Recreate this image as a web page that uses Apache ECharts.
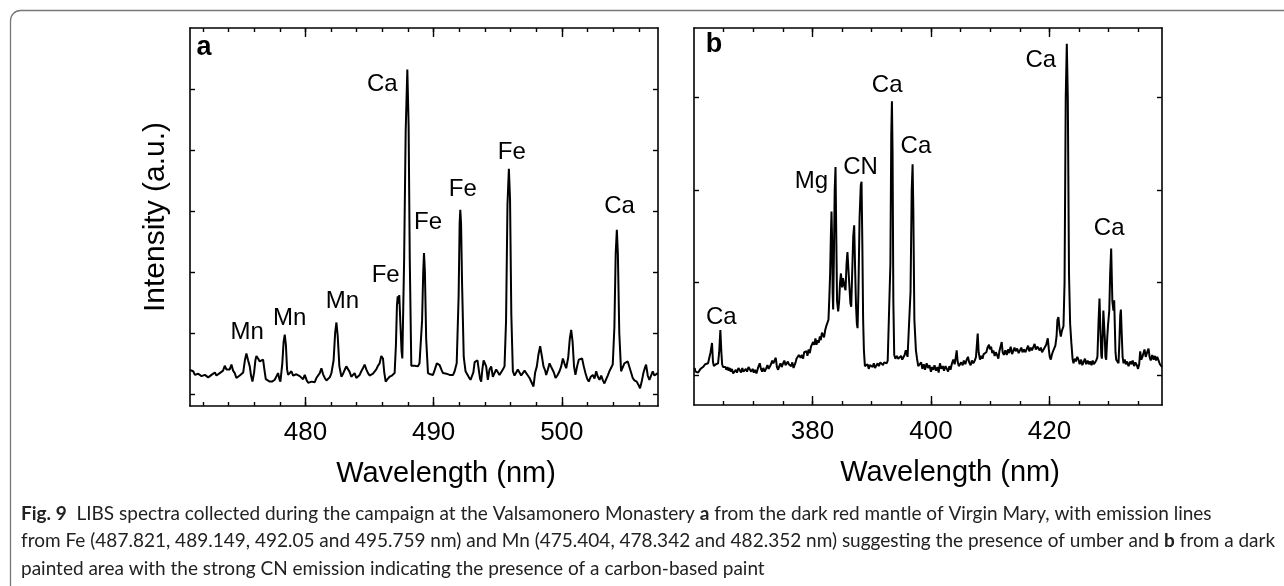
<!DOCTYPE html>
<html>
<head>
<meta charset="utf-8">
<script src="https://cdn.jsdelivr.net/npm/echarts@6/dist/echarts.min.js"></script>
<style>
html,body{margin:0;padding:0;background:#fff;}
#chart{width:1284px;height:586px;}
</style>
</head>
<body>
<div id="chart"></div>
<script>
// ---------- data ----------
// Panel a: wavelength (nm), intensity (a.u., tick spacing = 1)
const spectrumA = [[470.99,0.39],[471.12,0.36],[471.25,0.37],[471.38,0.31],[471.51,0.30],[471.64,0.33],[471.77,0.34],[471.90,0.29],[472.03,0.27],[472.16,0.31],[472.29,0.31],[472.42,0.27],[472.55,0.28],[472.68,0.31],[472.81,0.34],[472.94,0.35],[473.06,0.30],[473.19,0.31],[473.32,0.34],[473.45,0.37],[473.58,0.38],[473.71,0.46],[473.84,0.40],[473.97,0.37],[474.10,0.40],[474.23,0.48],[474.36,0.38],[474.49,0.34],[474.62,0.26],[474.75,0.23],[474.88,0.30],[475.01,0.31],[475.15,0.35],[475.28,0.55],[475.40,0.66],[475.53,0.55],[475.66,0.45],[475.76,0.30],[475.87,0.20],[476.00,0.35],[476.10,0.55],[476.18,0.62],[476.31,0.58],[476.44,0.53],[476.57,0.56],[476.70,0.56],[476.80,0.40],[476.91,0.24],[477.05,0.21],[477.22,0.20],[477.40,0.20],[477.61,0.23],[477.75,0.26],[477.87,0.34],[477.96,0.25],[478.05,0.20],[478.20,0.50],[478.30,0.85],[478.39,0.97],[478.48,0.80],[478.57,0.40],[478.65,0.31],[478.78,0.33],[478.91,0.37],[479.04,0.30],[479.17,0.28],[479.30,0.32],[479.43,0.34],[479.56,0.29],[479.69,0.28],[479.82,0.24],[479.95,0.31],[480.10,0.22],[480.22,0.18],[480.34,0.15],[480.47,0.20],[480.60,0.23],[480.73,0.19],[480.86,0.26],[480.99,0.30],[481.12,0.34],[481.25,0.42],[481.38,0.32],[481.51,0.26],[481.64,0.22],[481.77,0.20],[481.90,0.27],[482.03,0.34],[482.20,0.55],[482.32,1.00],[482.42,1.17],[482.52,0.95],[482.65,0.45],[482.81,0.28],[482.94,0.33],[483.06,0.39],[483.19,0.45],[483.32,0.48],[483.45,0.36],[483.58,0.28],[483.71,0.30],[483.84,0.34],[483.97,0.26],[484.10,0.26],[484.23,0.31],[484.36,0.37],[484.49,0.42],[484.62,0.48],[484.75,0.40],[484.88,0.34],[485.01,0.30],[485.14,0.28],[485.27,0.33],[485.40,0.34],[485.53,0.40],[485.66,0.46],[485.79,0.50],[485.92,0.62],[486.05,0.58],[486.15,0.35],[486.26,0.20],[486.40,0.24],[486.57,0.28],[486.75,0.30],[486.96,0.34],[487.06,0.80],[487.14,1.45],[487.20,1.60],[487.26,1.48],[487.32,1.62],[487.40,1.20],[487.50,0.70],[487.56,0.58],[487.70,2.20],[487.82,4.30],[487.95,5.32],[488.05,4.40],[488.14,2.20],[488.26,0.46],[488.39,0.48],[488.52,0.46],[488.65,0.44],[488.78,0.45],[488.90,0.50],[488.98,0.52],[489.10,1.20],[489.19,2.00],[489.25,2.31],[489.32,2.00],[489.42,0.90],[489.56,0.34],[489.75,0.32],[489.95,0.31],[490.10,0.40],[490.25,0.50],[490.34,0.50],[490.47,0.47],[490.60,0.40],[490.73,0.34],[490.86,0.34],[491.00,0.33],[491.12,0.30],[491.25,0.31],[491.40,0.34],[491.52,0.31],[491.64,0.37],[491.80,0.50],[491.95,1.60],[492.03,2.80],[492.08,3.02],[492.14,2.80],[492.22,1.80],[492.35,0.60],[492.49,0.37],[492.62,0.32],[492.75,0.27],[492.88,0.23],[493.00,0.20],[493.10,0.35],[493.20,0.52],[493.32,0.50],[493.42,0.55],[493.53,0.56],[493.62,0.25],[493.71,0.20],[493.80,0.40],[493.90,0.55],[493.97,0.56],[494.10,0.45],[494.23,0.23],[494.36,0.40],[494.49,0.45],[494.62,0.28],[494.75,0.28],[494.88,0.40],[495.01,0.37],[495.14,0.31],[495.27,0.31],[495.40,0.40],[495.53,0.45],[495.65,1.20],[495.76,3.10],[495.87,3.69],[495.96,3.20],[496.06,1.30],[496.18,0.37],[496.31,0.30],[496.44,0.28],[496.57,0.40],[496.70,0.39],[496.83,0.30],[496.96,0.31],[497.09,0.38],[497.22,0.37],[497.35,0.30],[497.48,0.26],[497.60,0.28],[497.79,0.12],[497.92,0.35],[498.05,0.45],[498.18,0.65],[498.31,0.78],[498.44,0.62],[498.57,0.45],[498.70,0.38],[498.78,0.31],[498.91,0.40],[499.04,0.50],[499.15,0.45],[499.25,0.45],[499.38,0.35],[499.51,0.26],[499.65,0.30],[499.82,0.37],[499.95,0.45],[500.08,0.58],[500.20,0.50],[500.34,0.42],[500.50,0.60],[500.62,0.90],[500.73,1.05],[500.84,0.85],[500.95,0.45],[501.06,0.31],[501.19,0.45],[501.32,0.56],[501.45,0.58],[501.58,0.58],[501.71,0.45],[501.84,0.34],[501.97,0.25],[502.10,0.20],[502.26,0.28],[502.42,0.31],[502.55,0.25],[502.68,0.37],[502.81,0.28],[502.94,0.23],[503.07,0.30],[503.20,0.22],[503.32,0.17],[503.46,0.24],[503.58,0.30],[503.71,0.37],[503.84,0.40],[503.97,0.48],[504.10,1.10],[504.20,2.30],[504.29,2.69],[504.37,2.30],[504.48,1.00],[504.62,0.37],[504.75,0.40],[504.88,0.50],[505.01,0.48],[505.14,0.53],[505.27,0.50],[505.40,0.35],[505.53,0.26],[505.66,0.22],[505.84,0.20],[505.97,0.15],[506.10,0.09],[506.23,0.20],[506.36,0.34],[506.47,0.42],[506.57,0.48],[506.70,0.30],[506.83,0.23],[506.96,0.30],[507.09,0.37],[507.22,0.30],[507.35,0.28],[507.48,0.34]];

// Panel b
const spectrumB = [[360.11,0.08],[360.25,0.04],[360.39,0.02],[360.55,0.05],[360.70,0.03],[360.96,0.04],[361.10,0.07],[361.25,0.05],[361.52,0.09],[361.70,0.07],[361.90,0.12],[362.10,0.10],[362.37,0.13],[362.60,0.15],[362.80,0.25],[363.04,0.35],[363.20,0.15],[363.35,0.10],[363.49,0.09],[363.70,0.12],[363.90,0.13],[364.06,0.13],[364.25,0.25],[364.45,0.49],[364.62,0.25],[364.75,0.12],[364.90,0.09],[365.10,0.07],[365.30,0.09],[365.46,0.06],[365.65,0.09],[365.85,0.05],[366.03,0.08],[366.20,0.04],[366.40,0.07],[366.60,0.02],[366.87,0.00],[367.05,0.06],[367.25,0.03],[367.50,0.08],[367.72,0.06],[367.95,0.03],[368.15,0.08],[368.35,0.04],[368.56,0.02],[368.75,0.07],[368.95,0.04],[369.20,0.09],[369.41,0.08],[369.65,0.04],[369.90,0.07],[370.10,0.03],[370.30,0.06],[370.54,0.02],[370.80,0.08],[371.10,0.13],[371.30,0.07],[371.50,0.04],[371.70,0.08],[371.94,0.04],[372.15,0.07],[372.40,0.11],[372.60,0.07],[372.79,0.09],[373.00,0.12],[373.20,0.16],[373.40,0.13],[373.63,0.15],[373.80,0.19],[374.00,0.09],[374.20,0.06],[374.40,0.10],[374.60,0.13],[374.80,0.09],[375.04,0.13],[375.25,0.16],[375.45,0.11],[375.61,0.09],[375.85,0.15],[376.00,0.12],[376.17,0.13],[376.40,0.10],[376.60,0.14],[376.80,0.08],[377.01,0.08],[377.15,0.14],[377.30,0.18],[377.50,0.16],[377.70,0.22],[377.86,0.24],[378.00,0.19],[378.20,0.22],[378.42,0.18],[378.60,0.25],[378.80,0.23],[378.99,0.26],[379.15,0.21],[379.35,0.28],[379.55,0.24],[379.75,0.31],[379.95,0.29],[380.11,0.36],[380.30,0.33],[380.50,0.40],[380.68,0.33],[380.85,0.38],[381.05,0.35],[381.24,0.42],[381.40,0.38],[381.60,0.46],[381.80,0.45],[381.95,0.41],[382.15,0.49],[382.37,0.54],[382.55,0.52],[382.70,0.60],[382.85,0.85],[382.98,1.10],[383.10,1.50],[383.21,1.77],[383.30,1.50],[383.40,0.90],[383.49,0.71],[383.60,1.20],[383.75,2.00],[383.89,2.25],[384.00,1.60],[384.15,0.80],[384.34,0.69],[384.50,0.80],[384.65,1.00],[384.80,1.10],[384.90,1.08],[385.00,0.95],[385.15,1.05],[385.30,1.05],[385.45,0.95],[385.58,0.92],[385.75,1.20],[385.90,1.33],[386.03,1.33],[386.20,1.00],[386.40,0.78],[386.54,0.74],[386.70,1.10],[386.88,1.50],[387.04,1.62],[387.18,1.20],[387.35,0.75],[387.50,0.55],[387.61,0.51],[387.75,0.90],[387.95,1.70],[388.15,2.05],[388.28,2.09],[388.42,1.40],[388.55,0.60],[388.68,0.27],[388.85,0.10],[389.13,0.08],[389.30,0.12],[389.50,0.07],[389.70,0.11],[389.97,0.13],[390.15,0.09],[390.35,0.13],[390.55,0.08],[390.82,0.09],[391.00,0.13],[391.20,0.10],[391.45,0.14],[391.66,0.15],[391.90,0.11],[392.10,0.14],[392.30,0.12],[392.51,0.13],[392.70,0.16],[392.96,0.17],[393.15,1.20],[393.30,2.60],[393.41,2.96],[393.52,2.40],[393.65,0.80],[393.80,0.22],[394.00,0.18],[394.25,0.21],[394.48,0.18],[394.70,0.16],[394.95,0.21],[395.15,0.17],[395.32,0.17],[395.55,0.22],[395.75,0.27],[395.89,0.26],[396.05,0.20],[396.20,0.22],[396.34,0.20],[396.55,0.90],[396.75,2.00],[396.90,2.28],[397.02,1.80],[397.20,0.60],[397.46,0.27],[397.65,0.18],[397.85,0.10],[398.14,0.09],[398.35,0.14],[398.55,0.07],[398.80,0.12],[399.00,0.06],[399.27,0.13],[399.50,0.08],[399.75,0.11],[400.00,0.04],[400.20,0.09],[400.39,0.06],[400.60,0.11],[400.85,0.05],[401.10,0.09],[401.30,0.03],[401.52,0.13],[401.75,0.07],[402.00,0.10],[402.20,0.05],[402.45,0.10],[402.65,0.09],[402.90,0.04],[403.10,0.10],[403.30,0.06],[403.55,0.13],[403.77,0.17],[404.00,0.12],[404.20,0.20],[404.34,0.27],[404.50,0.15],[404.70,0.10],[404.90,0.09],[405.10,0.14],[405.35,0.11],[405.55,0.16],[405.80,0.12],[406.03,0.17],[406.25,0.20],[406.45,0.14],[406.70,0.11],[406.90,0.16],[407.15,0.13],[407.40,0.16],[407.60,0.20],[407.89,0.45],[408.05,0.25],[408.28,0.17],[408.50,0.21],[408.70,0.18],[408.90,0.23],[409.13,0.22],[409.35,0.25],[409.55,0.30],[409.80,0.33],[409.95,0.28],[410.15,0.31],[410.35,0.24],[410.54,0.27],[410.75,0.21],[410.95,0.25],[411.15,0.22],[411.38,0.18],[411.55,0.26],[411.75,0.24],[411.94,0.36],[412.10,0.25],[412.30,0.22],[412.55,0.27],[412.79,0.22],[413.00,0.28],[413.20,0.24],[413.45,0.31],[413.70,0.23],[413.92,0.24],[414.10,0.30],[414.30,0.26],[414.55,0.29],[414.80,0.24],[415.04,0.24],[415.25,0.30],[415.45,0.25],[415.70,0.28],[415.95,0.25],[416.17,0.27],[416.40,0.32],[416.60,0.26],[416.85,0.30],[417.05,0.27],[417.30,0.29],[417.50,0.34],[417.70,0.28],[417.95,0.31],[418.14,0.33],[418.35,0.27],[418.55,0.30],[418.75,0.25],[418.99,0.27],[419.20,0.30],[419.45,0.33],[419.72,0.40],[419.90,0.28],[420.05,0.20],[420.23,0.17],[420.40,0.22],[420.60,0.26],[420.79,0.27],[421.00,0.32],[421.20,0.42],[421.35,0.60],[421.52,0.63],[421.70,0.50],[421.92,0.42],[422.10,0.48],[422.37,0.53],[422.55,1.00],[422.75,3.00],[422.93,3.58],[423.10,3.00],[423.30,1.10],[423.49,0.56],[423.70,0.35],[423.90,0.18],[424.06,0.13],[424.25,0.18],[424.45,0.15],[424.70,0.20],[424.90,0.17],[425.10,0.12],[425.35,0.17],[425.55,0.11],[425.75,0.13],[426.00,0.18],[426.20,0.12],[426.45,0.16],[426.65,0.12],[426.87,0.15],[427.10,0.11],[427.30,0.16],[427.50,0.12],[427.72,0.13],[427.90,0.16],[428.10,0.20],[428.30,0.60],[428.45,0.83],[428.60,0.50],[428.75,0.22],[428.85,0.18],[429.00,0.45],[429.10,0.70],[429.24,0.71],[429.35,0.40],[429.45,0.20],[429.58,0.17],[429.75,0.40],[429.90,0.55],[429.97,0.56],[430.10,0.70],[430.25,1.10],[430.42,1.37],[430.55,1.00],[430.62,0.80],[430.70,0.81],[430.80,0.70],[430.93,0.81],[431.05,0.50],[431.15,0.25],[431.27,0.17],[431.45,0.15],[431.66,0.13],[431.80,0.35],[431.95,0.65],[432.06,0.71],[432.20,0.45],[432.35,0.20],[432.51,0.13],[432.70,0.17],[432.90,0.12],[433.10,0.15],[433.35,0.10],[433.63,0.15],[433.85,0.12],[434.05,0.16],[434.30,0.10],[434.50,0.14],[434.76,0.11],[434.95,0.07],[435.15,0.12],[435.32,0.26],[435.50,0.17],[435.70,0.20],[435.89,0.18],[436.05,0.28],[436.25,0.20],[436.50,0.25],[436.73,0.29],[436.90,0.20],[437.10,0.16],[437.35,0.22],[437.58,0.17],[437.80,0.21],[438.00,0.16],[438.20,0.20],[438.42,0.18],[438.65,0.12],[438.85,0.10],[438.99,0.09]];

// Peak labels: [wavelength, intensity, text]
const labelsA = [[475.45,1.00,'Mn'],[478.78,1.24,'Mn'],[482.88,1.51,'Mn'],[486.26,1.95,'Fe'],[486.00,5.07,'Ca'],[489.56,2.81,'Fe'],[492.28,3.36,'Fe'],[496.10,3.96,'Fe'],[504.50,3.07,'Ca']];
const labelsB = [[364.62,0.63,'Ca'],[379.83,2.09,'Mg'],[388.11,2.25,'CN'],[392.61,3.13,'Ca'],[397.46,2.47,'Ca'],[418.53,3.40,'Ca'],[430.08,1.59,'Ca']];

// Axis ranges and ticks
const xRangeA = [471.0, 507.5];
const xMajorA = [480, 490, 500];
const xMinorA = [472,474,476,478,480,482,484,486,488,490,492,494,496,498,500,502,504,506];
const yRangeA = [-0.2, 6.0];
const yTicksA = [0,1,2,3,4,5];

const xRangeB = [360.0, 439.0];
const xMajorB = [380, 400, 420];
const xMinorB = [365,370,375,380,385,390,395,400,405,410,415,420,425,430,435];
const yRangeB = [-0.32, 3.75];
const yTicksB = [0,1,2,3];

const xTitle = 'Wavelength (nm)';
const yTitle = 'Intensity (a.u.)';
const captionLines = [
  '{b|Fig. 9}  LIBS spectra collected during the campaign at the Valsamonero Monastery {b|a} from the dark red mantle of Virgin Mary, with emission lines',
  'from Fe (487.821, 489.149, 492.05 and 495.759 nm) and Mn (475.404, 478.342 and 482.352 nm) suggesting the presence of umber and {b|b} from a dark',
  'painted area with the strong CN emission indicating the presence of a carbon-based paint'
];

// ---------- chart ----------
const FONT = '"Liberation Sans", Arial, Helvetica, sans-serif';
const CAPFONT = 'Lato, "Open Sans", sans-serif';
const CAPSIZE = 19;
const chart = echarts.init(document.getElementById('chart'), null, {renderer: 'canvas'});

function xAxes(gridIndex, range, minor, major) {
  const base = {
    type: 'value', gridIndex, min: range[0], max: range[1],
    splitLine: {show: false},
    axisLine: {show: true, onZero: false, lineStyle: {color: '#000', width: 1.6}}
  };
  return [
    Object.assign({}, base, {
      position: 'bottom',
      axisTick: {show: true, inside: true, length: 4, customValues: minor, lineStyle: {color: '#000', width: 1.4}},
      axisLabel: {show: true, customValues: major, margin: 14, color: '#000', fontSize: 26, fontFamily: FONT},
      name: xTitle, nameLocation: 'middle', nameGap: 53,
      nameTextStyle: {color: '#000', fontSize: 29, fontFamily: FONT, padding: [0, 0, 0, 44]}
    }),
    Object.assign({}, base, {
      position: 'bottom', axisLine: {show: false, onZero: false},
      axisTick: {show: true, inside: true, length: 9, customValues: major, lineStyle: {color: '#000', width: 1.4}},
      axisLabel: {show: false}
    }),
    Object.assign({}, base, {
      position: 'top',
      axisTick: {show: true, inside: true, length: 4, customValues: minor, lineStyle: {color: '#000', width: 1.4}},
      axisLabel: {show: false}
    }),
    Object.assign({}, base, {
      position: 'top', axisLine: {show: false, onZero: false},
      axisTick: {show: true, inside: true, length: 9, customValues: major, lineStyle: {color: '#000', width: 1.4}},
      axisLabel: {show: false}
    })
  ];
}
function yAxes(gridIndex, range, ticks, name) {
  const base = {
    type: 'value', gridIndex, min: range[0], max: range[1],
    splitLine: {show: false},
    axisLine: {show: true, onZero: false, lineStyle: {color: '#000', width: 1.6}},
    axisTick: {show: true, inside: true, length: 5, customValues: ticks, lineStyle: {color: '#000', width: 1.4}},
    axisLabel: {show: false}
  };
  return [
    Object.assign({}, base, {position: 'left', name: name || '', nameLocation: 'middle', nameGap: 19,
      nameTextStyle: {color: '#000', fontSize: 30, fontFamily: FONT}}),
    Object.assign({}, base, {position: 'right'})
  ];
}

const xA = xAxes(0, xRangeA, xMinorA, xMajorA);
const xB = xAxes(1, xRangeB, xMinorB, xMajorB);
const yA = yAxes(0, yRangeA, yTicksA, yTitle);
const yB = yAxes(1, yRangeB, yTicksB, '');

function labelSeries(xi, yi, arr) {
  return {
    type: 'scatter', xAxisIndex: xi, yAxisIndex: yi, symbolSize: 1, silent: true,
    itemStyle: {color: 'rgba(0,0,0,0)', opacity: 1},
    data: arr.map(d => ({value: [d[0], d[1]], name: d[2]})),
    label: {show: true, position: 'inside', formatter: '{b}', color: '#000', fontSize: 24, fontFamily: FONT,
      textBorderWidth: 0, opacity: 1},
    labelLayout: {hideOverlap: false},
    z: 5
  };
}

const capRich = {b: {fontWeight: 'bold', fontSize: CAPSIZE, fontFamily: CAPFONT, fill: '#222', color: '#222'}};
const captionGraphics = captionLines.map((t, i) => ({
  type: 'text', left: 21, top: 504 + i * 27.5, silent: true,
  style: {text: t, rich: capRich, fontSize: CAPSIZE, fontFamily: CAPFONT, fill: '#222'}
}));

chart.setOption({
  animation: false,
  backgroundColor: '#fff',
  grid: [
    {left: 190, top: 28, width: 468, height: 378},
    {left: 694, top: 28, width: 468, height: 377}
  ],
  xAxis: xA.concat(xB),
  yAxis: yA.concat(yB),
  series: [
    {type: 'line', xAxisIndex: 0, yAxisIndex: 0, data: spectrumA, showSymbol: false, silent: true,
      lineStyle: {color: '#000', width: 2}, z: 3},
    {type: 'line', xAxisIndex: 4, yAxisIndex: 2, data: spectrumB, showSymbol: false, silent: true,
      lineStyle: {color: '#000', width: 2}, z: 3},
    labelSeries(0, 0, labelsA),
    labelSeries(4, 2, labelsB)
  ],
  graphic: [
    {type: 'rect', silent: true, shape: {x: 10.5, y: 10.5, width: 1320, height: 620, r: 10},
      style: {fill: 'none', stroke: '#777', lineWidth: 1.3}},
    {type: 'text', x: 204, y: 48, silent: true,
      style: {text: 'a', fontSize: 27, fontWeight: 'bold', fontFamily: FONT, fill: '#000', align: 'center', verticalAlign: 'middle'}},
    {type: 'text', x: 714, y: 45, silent: true,
      style: {text: 'b', fontSize: 27, fontWeight: 'bold', fontFamily: FONT, fill: '#000', align: 'center', verticalAlign: 'middle'}}
  ].concat(captionGraphics)
});
</script>
</body>
</html>
